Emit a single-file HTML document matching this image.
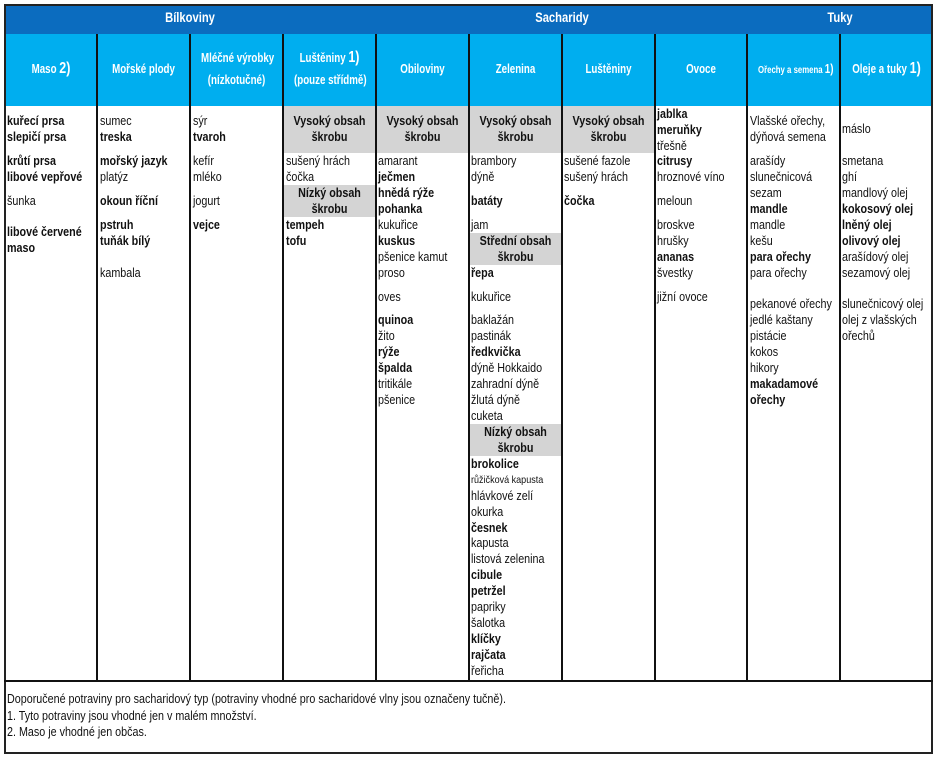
<!DOCTYPE html>
<html><head><meta charset="utf-8"><style>
*{margin:0;padding:0;box-sizing:border-box}
body{width:941px;height:764px;background:#fff;position:relative;overflow:hidden;font-family:"Liberation Sans",sans-serif;color:#111}
.a{position:absolute}
.hd{position:absolute;left:4px;top:4px;width:929px;height:30px;background:#0b6cbf;border:2px solid #1a1a2a;border-bottom:none}
.sh{position:absolute;top:34px;height:72px;background:#00aeef}
.vl{position:absolute;top:34px;width:2px;height:647px;background:#111}
.ht{position:absolute;color:#fff;font-weight:bold;font-size:14px;transform:scaleX(.8);white-space:nowrap;text-align:center}
.st{position:absolute;color:#fff;font-weight:bold;font-size:12.5px;transform:scaleX(.78);white-space:nowrap;text-align:center;line-height:22px}
.c{position:absolute;top:0}
.l{position:absolute;font-size:12.5px;line-height:16px;white-space:nowrap;transform:scaleX(.86);transform-origin:left center}
.b{font-weight:bold}
.g{position:absolute;background:#d4d4d4}
.gt{position:absolute;font-size:12.5px;line-height:16px;font-weight:bold;text-align:center;white-space:nowrap;transform:scaleX(.86)}
</style></head><body>
<div class="hd"></div>
<div class="ht" style="left:140px;top:9px;width:100px">Bílkoviny</div>
<div class="ht" style="left:512px;top:9px;width:100px">Sacharidy</div>
<div class="ht" style="left:790px;top:9px;width:100px">Tuky</div>
<div class="sh" style="left:4px;width:929px"></div>
<!-- outer border -->
<div class="a" style="left:4px;top:4px;width:929px;height:750px;border:2px solid #222"></div>
<div class="a" style="left:4px;top:680px;width:929px;height:2px;background:#111"></div>
<div class="vl" style="left:96px"></div><div class="vl" style="left:189px"></div><div class="vl" style="left:282px"></div><div class="vl" style="left:375px"></div><div class="vl" style="left:468px"></div><div class="vl" style="left:561px"></div><div class="vl" style="left:654px"></div><div class="vl" style="left:746px"></div><div class="vl" style="left:839px"></div>
<!-- subheaders -->
<div class="st" style="left:6px;top:58px;width:90px">Maso <span style="font-size:16px">2)</span></div>
<div class="st" style="left:98px;top:58px;width:91px">Mořské plody</div>
<div class="st" style="left:191px;top:47px;width:91px">Mléčné výrobky<br>(nízkotučné)</div>
<div class="st" style="left:284px;top:47px;width:91px">Luštěniny <span style="font-size:16px">1)</span><br>(pouze střídmě)</div>
<div class="st" style="left:377px;top:58px;width:91px">Obiloviny</div>
<div class="st" style="left:470px;top:58px;width:91px">Zelenina</div>
<div class="st" style="left:563px;top:58px;width:91px">Luštěniny</div>
<div class="st" style="left:656px;top:58px;width:90px">Ovoce</div>
<div class="st" style="left:748px;top:58px;width:91px;font-size:10px">Ořechy a semena <span style="font-size:12.5px">1)</span></div>
<div class="st" style="left:841px;top:58px;width:91px">Oleje a tuky <span style="font-size:16px">1)</span></div>
<!-- gray boxes -->
<div class="g" style="left:284px;top:106px;width:91px;height:47px"></div>
<div class="g" style="left:377px;top:106px;width:91px;height:47px"></div>
<div class="g" style="left:470px;top:106px;width:91px;height:47px"></div>
<div class="g" style="left:563px;top:106px;width:91px;height:47px"></div>
<div class="g" style="left:284px;top:185px;width:91px;height:32px"></div>
<div class="g" style="left:470px;top:233px;width:91px;height:32px"></div>
<div class="g" style="left:470px;top:424px;width:91px;height:32px"></div>
<div class="gt" style="left:284px;top:113px;width:91px">Vysoký obsah<br>škrobu</div>
<div class="gt" style="left:377px;top:113px;width:91px">Vysoký obsah<br>škrobu</div>
<div class="gt" style="left:470px;top:113px;width:91px">Vysoký obsah<br>škrobu</div>
<div class="gt" style="left:563px;top:113px;width:91px">Vysoký obsah<br>škrobu</div>
<div class="gt" style="left:284px;top:185px;width:91px">Nízký obsah<br>škrobu</div>
<div class="gt" style="left:470px;top:233px;width:91px">Střední obsah<br>škrobu</div>
<div class="gt" style="left:470px;top:424px;width:91px">Nízký obsah<br>škrobu</div>
<!-- col1 -->
<div class="c" style="left:7px">
<div class="l b" style="top:113px">kuřecí prsa</div><div class="l b" style="top:129px">slepičí prsa</div>
<div class="l b" style="top:153px">krůtí prsa</div><div class="l b" style="top:169px">libové vepřové</div>
<div class="l" style="top:193px">šunka</div><div class="l b" style="top:224px">libové červené</div><div class="l b" style="top:240px">maso</div></div>
<!-- col2 -->
<div class="c" style="left:100px">
<div class="l" style="top:113px">sumec</div><div class="l b" style="top:129px">treska</div>
<div class="l b" style="top:153px">mořský jazyk</div><div class="l" style="top:169px">platýz</div>
<div class="l b" style="top:193px">okoun říční</div><div class="l b" style="top:217px">pstruh</div><div class="l b" style="top:233px">tuňák bílý</div>
<div class="l" style="top:265px">kambala</div></div>
<!-- col3 -->
<div class="c" style="left:193px">
<div class="l" style="top:113px">sýr</div><div class="l b" style="top:129px">tvaroh</div>
<div class="l" style="top:153px">kefír</div><div class="l" style="top:169px">mléko</div>
<div class="l" style="top:193px">jogurt</div><div class="l b" style="top:217px">vejce</div></div>
<!-- col4 -->
<div class="c" style="left:286px">
<div class="l" style="top:153px">sušený hrách</div><div class="l" style="top:169px">čočka</div>
<div class="l b" style="top:217px">tempeh</div><div class="l b" style="top:233px">tofu</div></div>
<!-- col5 -->
<div class="c" style="left:378px">
<div class="l" style="top:153px">amarant</div><div class="l b" style="top:169px">ječmen</div><div class="l b" style="top:185px">hnědá rýže</div><div class="l b" style="top:201px">pohanka</div><div class="l" style="top:217px">kukuřice</div><div class="l b" style="top:233px">kuskus</div><div class="l" style="top:249px">pšenice kamut</div><div class="l" style="top:265px">proso</div><div class="l" style="top:289px">oves</div><div class="l b" style="top:312px">quinoa</div><div class="l" style="top:328px">žito</div><div class="l b" style="top:344px">rýže</div><div class="l b" style="top:360px">špalda</div><div class="l" style="top:376px">tritikále</div><div class="l" style="top:392px">pšenice</div></div>
<!-- col6 -->
<div class="c" style="left:471px">
<div class="l" style="top:153px">brambory</div><div class="l" style="top:169px">dýně</div><div class="l b" style="top:193px">batáty</div><div class="l" style="top:217px">jam</div>
<div class="l b" style="top:265px">řepa</div><div class="l" style="top:289px">kukuřice</div><div class="l" style="top:312px">baklažán</div><div class="l" style="top:328px">pastinák</div><div class="l b" style="top:344px">ředkvička</div><div class="l" style="top:360px">dýně Hokkaido</div><div class="l" style="top:376px">zahradní dýně</div><div class="l" style="top:392px">žlutá dýně</div><div class="l" style="top:408px">cuketa</div>
<div class="l b" style="top:456px">brokolice</div><div class="l" style="top:472px;font-size:10.5px">růžičková kapusta</div><div class="l" style="top:488px">hlávkové zelí</div><div class="l" style="top:504px">okurka</div><div class="l b" style="top:520px">česnek</div><div class="l" style="top:535px">kapusta</div><div class="l" style="top:551px">listová zelenina</div><div class="l b" style="top:567px">cibule</div><div class="l b" style="top:583px">petržel</div><div class="l" style="top:599px">papriky</div><div class="l" style="top:615px">šalotka</div><div class="l b" style="top:631px">klíčky</div><div class="l b" style="top:647px">rajčata</div><div class="l" style="top:663px">řeřicha</div></div>
<!-- col7 -->
<div class="c" style="left:564px">
<div class="l" style="top:153px">sušené fazole</div><div class="l" style="top:169px">sušený hrách</div><div class="l b" style="top:193px">čočka</div></div>
<!-- col8 -->
<div class="c" style="left:657px">
<div class="l b" style="top:106px">jablka</div><div class="l b" style="top:122px">meruňky</div><div class="l" style="top:138px">třešně</div><div class="l b" style="top:153px">citrusy</div><div class="l" style="top:169px">hroznové víno</div><div class="l" style="top:193px">meloun</div><div class="l" style="top:217px">broskve</div><div class="l" style="top:233px">hrušky</div><div class="l b" style="top:249px">ananas</div><div class="l" style="top:265px">švestky</div><div class="l" style="top:289px">jižní ovoce</div></div>
<!-- col9 -->
<div class="c" style="left:750px">
<div class="l" style="top:113px">Vlašské ořechy,</div><div class="l" style="top:129px">dýňová semena</div><div class="l" style="top:153px">arašídy</div><div class="l" style="top:169px">slunečnicová</div><div class="l" style="top:185px">sezam</div><div class="l b" style="top:201px">mandle</div><div class="l" style="top:217px">mandle</div><div class="l" style="top:233px">kešu</div><div class="l b" style="top:249px">para ořechy</div><div class="l" style="top:265px">para ořechy</div><div class="l" style="top:296px">pekanové ořechy</div><div class="l" style="top:312px">jedlé kaštany</div><div class="l" style="top:328px">pistácie</div><div class="l" style="top:344px">kokos</div><div class="l" style="top:360px">hikory</div><div class="l b" style="top:376px">makadamové</div><div class="l b" style="top:392px">ořechy</div></div>
<!-- col10 -->
<div class="c" style="left:842px">
<div class="l" style="top:121px">máslo</div><div class="l" style="top:153px">smetana</div><div class="l" style="top:169px">ghí</div><div class="l" style="top:185px">mandlový olej</div><div class="l b" style="top:201px">kokosový olej</div><div class="l b" style="top:217px">lněný olej</div><div class="l b" style="top:233px">olivový olej</div><div class="l" style="top:249px">arašídový olej</div><div class="l" style="top:265px">sezamový olej</div><div class="l" style="top:296px">slunečnicový olej</div><div class="l" style="top:312px">olej z vlašských</div><div class="l" style="top:328px">ořechů</div></div>
<!-- footer -->
<div class="c" style="left:7px">
<div class="l" style="top:691px">Doporučené potraviny pro sacharidový typ (potraviny vhodné pro sacharidové vlny jsou označeny tučně).</div>
<div class="l" style="top:708px">1. Tyto potraviny jsou vhodné jen v malém množství.</div>
<div class="l" style="top:724px">2. Maso je vhodné jen občas.</div></div>
</body></html>
